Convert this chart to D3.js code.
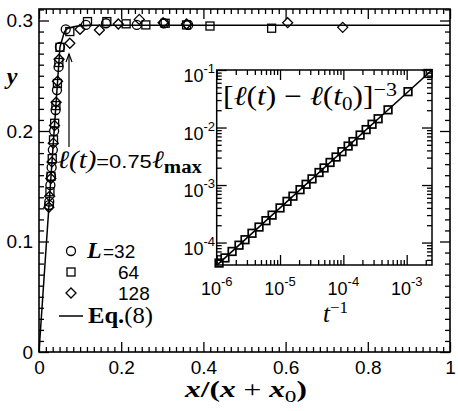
<!DOCTYPE html>
<html><head><meta charset="utf-8">
<script src="https://cdn.jsdelivr.net/npm/d3@7"></script>
<style>body{margin:0;background:#fff} svg{display:block}</style>
</head><body><svg id="c" width="458" height="411"></svg>
<script>
// ---- main plot data ----
const xTicks = [0, 0.2, 0.4, 0.6, 0.8, 1];
const xTickLabels = ["0", "0.2", "0.4", "0.6", "0.8", "1"];
const yTicks = [0, 0.1, 0.2, 0.3];
const yTickLabels = ["0", "0.1", "0.2", "0.3"];

const c32x = [0.0244, 0.0250, 0.0277, 0.0292, 0.0307, 0.0337, 0.0368, 0.0404, 0.0437, 0.0476, 0.0510, 0.065, 0.114, 0.163, 0.238, 0.304, 0.363];
const c32y = [0.133, 0.136, 0.151, 0.159, 0.167, 0.183, 0.200, 0.219, 0.237, 0.258, 0.276, 0.292, 0.296, 0.2975, 0.296, 0.2975, 0.296];
const s64x = [0.0266, 0.0292, 0.0322, 0.0353, 0.0381, 0.0411, 0.0448, 0.0483, 0.0510, 0.075, 0.118, 0.165, 0.212, 0.260, 0.307, 0.359, 0.416, 0.566];
const s64y = [0.145, 0.159, 0.175, 0.192, 0.207, 0.223, 0.243, 0.262, 0.2757, 0.290, 0.299, 0.299, 0.297, 0.296, 0.2975, 0.296, 0.295, 0.293];
const d128x = [0.0240, 0.0259, 0.0288, 0.0316, 0.0347, 0.0377, 0.0416, 0.0451, 0.0488, 0.075, 0.0998, 0.147, 0.193, 0.244, 0.302, 0.359, 0.605, 0.739];
const d128y = [0.131, 0.141, 0.157, 0.172, 0.189, 0.205, 0.226, 0.245, 0.265, 0.2794, 0.292, 0.2914, 0.2968, 0.301, 0.298, 0.2968, 0.298, 0.2938];
const eqX = [0, 0.024, 0.051, 0.062, 0.07, 0.09, 0.12, 1.0];
const eqY = [0, 0.131, 0.276, 0.290, 0.293, 0.2948, 0.2957, 0.2958];

// ---- inset data ----
const insetXTicks = [1e-6, 1e-5, 1e-4, 1e-3];
const insetXTickExp = ["-6", "-5", "-4", "-3"];
const insetYTicks = [1e-4, 1e-3, 1e-2, 1e-1];
const insetYTickExp = ["-4", "-3", "-2", "-1"];
const insT = [1.09e-6, 1.35e-6, 1.75e-6, 2.25e-6, 2.80e-6, 3.61e-6, 4.66e-6, 6.0e-6, 7.5e-6, 1.0e-5, 1.29e-5, 1.60e-5, 2.07e-5, 2.58e-5, 3.2e-5, 4.13e-5, 4.96e-5, 6.17e-5, 7.67e-5, 9.5e-5, 1.19e-4, 1.42e-4, 1.84e-4, 2.29e-4, 2.84e-4, 3.54e-4, 5.08e-4, 1.05e-3, 2.18e-3];
const insL = [4.4e-5, 5.4e-5, 7.0e-5, 9.0e-5, 1.12e-4, 1.45e-4, 1.86e-4, 2.4e-4, 3.0e-4, 4.0e-4, 5.2e-4, 6.4e-4, 8.3e-4, 1.03e-3, 1.28e-3, 1.65e-3, 1.98e-3, 2.47e-3, 3.07e-3, 3.8e-3, 4.76e-3, 5.7e-3, 7.4e-3, 9.2e-3, 1.14e-2, 1.42e-2, 2.03e-2, 4.2e-2, 8.7e-2];
const insLineT = [1e-6, 2.51e-3];
const insLineL = [4.0e-5, 0.1];

const svg = d3.select("#c");
const sans = "'Liberation Sans', Arial, sans-serif";
const serif = "'Liberation Serif', 'DejaVu Serif', serif";

const x = d3.scaleLinear().domain([0, 1]).range([39, 450]);
const y = d3.scaleLinear().domain([0, 0.3104]).range([352, 9]);

const minorX = d3.range(0, 61).map(i => i / 60).filter(v => !xTicks.some(t => Math.abs(t - v) < 1e-9));
const minorY = d3.range(0, 32).map(i => i / 100).filter(v => v <= 0.3104 && !yTicks.some(t => Math.abs(t - v) < 1e-9));

function styleAxis(g) {
  g.select(".domain").remove();
  g.selectAll(".tick line").attr("stroke", "#000").attr("stroke-width", 1.3);
  g.selectAll(".tick text").attr("fill", "#000");
}

// minor ticks
svg.append("g").attr("transform", "translate(0,352)").call(d3.axisBottom(x).tickValues(minorX).tickSize(-5).tickFormat("")).call(styleAxis);
svg.append("g").attr("transform", "translate(0,9)").call(d3.axisTop(x).tickValues(minorX).tickSize(-5).tickFormat("")).call(styleAxis);
svg.append("g").attr("transform", "translate(39,0)").call(d3.axisLeft(y).tickValues(minorY).tickSize(-5).tickFormat("")).call(styleAxis);
svg.append("g").attr("transform", "translate(450,0)").call(d3.axisRight(y).tickValues(minorY).tickSize(-5).tickFormat("")).call(styleAxis);
// major ticks
const gxb = svg.append("g").attr("transform", "translate(0,352)")
  .call(d3.axisBottom(x).tickValues(xTicks).tickSize(-10).tickPadding(9).tickFormat((d, i) => xTickLabels[i])).call(styleAxis);
gxb.selectAll("text").attr("font-family", sans).attr("font-size", 19);
svg.append("g").attr("transform", "translate(0,9)").call(d3.axisTop(x).tickValues(xTicks).tickSize(-10).tickFormat("")).call(styleAxis);
const gyl = svg.append("g").attr("transform", "translate(39,0)")
  .call(d3.axisLeft(y).tickValues(yTicks).tickSize(-10).tickPadding(6).tickFormat((d, i) => yTickLabels[i])).call(styleAxis);
gyl.selectAll("text").attr("font-family", sans).attr("font-size", 19);
svg.append("g").attr("transform", "translate(450,0)").call(d3.axisRight(y).tickValues(yTicks).tickSize(-10).tickFormat("")).call(styleAxis);

svg.append("rect").attr("x", 39).attr("y", 9).attr("width", 411).attr("height", 343)
  .attr("fill", "none").attr("stroke", "#000").attr("stroke-width", 1.6);

// Eq. line
const line = d3.line().x(d => x(d[0])).y(d => y(d[1]));
svg.append("path").datum(eqX.map((v, i) => [v, eqY[i]])).attr("d", line)
  .attr("fill", "none").attr("stroke", "#000").attr("stroke-width", 1.5);

const mk = { stroke: "#000", sw: 1.3 };
svg.append("g").selectAll("circle").data(c32x.map((v, i) => [v, c32y[i]])).join("circle")
  .attr("cx", d => x(d[0])).attr("cy", d => y(d[1])).attr("r", 4.5)
  .attr("fill", "none").attr("stroke", mk.stroke).attr("stroke-width", mk.sw);
svg.append("g").selectAll("rect").data(s64x.map((v, i) => [v, s64y[i]])).join("rect")
  .attr("x", d => x(d[0]) - 4).attr("y", d => y(d[1]) - 4).attr("width", 8).attr("height", 8)
  .attr("fill", "none").attr("stroke", mk.stroke).attr("stroke-width", mk.sw);
const diamond = (cx, cy, r) => `M${cx},${cy - r}L${cx + r},${cy}L${cx},${cy + r}L${cx - r},${cy}Z`;
svg.append("g").selectAll("path").data(d128x.map((v, i) => [v, d128y[i]])).join("path")
  .attr("d", d => diamond(x(d[0]), y(d[1]), 5))
  .attr("fill", "none").attr("stroke", mk.stroke).attr("stroke-width", mk.sw);

// arrow annotation
const ax = x(0.073);
svg.append("line").attr("x1", ax).attr("x2", ax).attr("y1", 147).attr("y2", 54).attr("stroke", "#000").attr("stroke-width", 1.2);
svg.append("path").attr("d", `M${ax - 3},${62}L${ax},${54}L${ax + 3},${62}`).attr("fill", "none").attr("stroke", "#000").attr("stroke-width", 1.2);
const ann = svg.append("text").attr("x", 57).attr("y", 168).attr("fill", "#000")
  .attr("textLength", 145).attr("lengthAdjust", "spacingAndGlyphs");
ann.append("tspan").attr("font-family", serif).attr("font-style", "italic").attr("font-size", 25).text("ℓ(t)");
ann.append("tspan").attr("font-family", sans).attr("font-size", 19).text("=0.75");
ann.append("tspan").attr("font-family", serif).attr("font-style", "italic").attr("font-size", 25).text("ℓ");
ann.append("tspan").attr("font-family", serif).attr("font-weight", "bold").attr("font-size", 18).attr("dy", 5).text("max");

// y & x labels
svg.append("text").attr("x", 12).attr("y", 84).attr("text-anchor", "middle").attr("font-family", serif)
  .attr("font-style", "italic").attr("font-weight", "bold").attr("font-size", 24).text("y");
const xl = svg.append("text").attr("x", 185).attr("y", 397).attr("font-family", serif)
  .attr("font-weight", "bold").attr("font-size", 23).attr("textLength", 122).attr("lengthAdjust", "spacingAndGlyphs");
xl.append("tspan").attr("font-style", "italic").text("x");
xl.append("tspan").text("/(");
xl.append("tspan").attr("font-style", "italic").text("x");
xl.append("tspan").attr("font-weight", "normal").text(" + ");
xl.append("tspan").attr("font-style", "italic").text("x");
xl.append("tspan").attr("font-size", 17).attr("font-weight", "normal").attr("dy", 5).text("0");
xl.append("tspan").attr("dy", -5).text(")");

// legend
const lg = svg.append("g");
lg.append("circle").attr("cx", 71).attr("cy", 251).attr("r", 4.5).attr("fill", "none").attr("stroke", "#000").attr("stroke-width", 1.3);
lg.append("rect").attr("x", 67).attr("y", 268).attr("width", 8).attr("height", 8).attr("fill", "none").attr("stroke", "#000").attr("stroke-width", 1.3);
lg.append("path").attr("d", diamond(71, 293, 5)).attr("fill", "none").attr("stroke", "#000").attr("stroke-width", 1.3);
lg.append("line").attr("x1", 59).attr("x2", 83).attr("y1", 316).attr("y2", 316).attr("stroke", "#000").attr("stroke-width", 1.5);
const t1 = lg.append("text").attr("x", 87).attr("y", 258);
t1.append("tspan").attr("font-family", serif).attr("font-style", "italic").attr("font-weight", "bold").attr("font-size", 24).text("L");
t1.append("tspan").attr("font-family", sans).attr("font-size", 19).attr("x", 103).text("=32");
lg.append("text").attr("x", 118).attr("y", 279).attr("font-family", sans).attr("font-size", 19).text("64");
lg.append("text").attr("x", 118).attr("y", 300).attr("font-family", sans).attr("font-size", 19).text("128");
const t4 = lg.append("text").attr("x", 88).attr("y", 323).attr("font-family", serif).attr("font-size", 24)
  .attr("textLength", 65).attr("lengthAdjust", "spacingAndGlyphs");
t4.append("tspan").attr("font-weight", "bold").text("Eq.");
t4.append("tspan").text("(8)");

// ---- inset ----
const xi = d3.scaleLog().domain([1e-6, 2.51e-3]).range([216.7, 432]);
const yi = d3.scaleLog().domain([4.07e-5, 0.1]).range([265, 70]);
svg.append("rect").attr("x", 216.7).attr("y", 70).attr("width", 432 - 216.7).attr("height", 195).attr("fill", "#fff");

const minorXi = [];
[-6, -5, -4, -3].forEach(e => { for (let m = 2; m <= 9; m++) { const v = m * Math.pow(10, e); if (v < 2.51e-3) minorXi.push(v); } });
const minorYi = [];
[-5, -4, -3, -2].forEach(e => { for (let m = 2; m <= 9; m++) { const v = m * Math.pow(10, e); if (v > 4.07e-5 && v < 0.1) minorYi.push(v); } });

svg.append("g").attr("transform", "translate(0,265)").call(d3.axisBottom(xi).tickValues(minorXi).tickSize(-5).tickFormat("")).call(styleAxis);
svg.append("g").attr("transform", "translate(0,70)").call(d3.axisTop(xi).tickValues(minorXi).tickSize(-5).tickFormat("")).call(styleAxis);
svg.append("g").attr("transform", "translate(216.7,0)").call(d3.axisLeft(yi).tickValues(minorYi).tickSize(-5).tickFormat("")).call(styleAxis);
svg.append("g").attr("transform", "translate(432,0)").call(d3.axisRight(yi).tickValues(minorYi).tickSize(-5).tickFormat("")).call(styleAxis);
svg.append("g").attr("transform", "translate(0,265)").call(d3.axisBottom(xi).tickValues(insetXTicks).tickSize(-10).tickFormat("")).call(styleAxis);
svg.append("g").attr("transform", "translate(0,70)").call(d3.axisTop(xi).tickValues(insetXTicks).tickSize(-10).tickFormat("")).call(styleAxis);
svg.append("g").attr("transform", "translate(216.7,0)").call(d3.axisLeft(yi).tickValues(insetYTicks).tickSize(-10).tickFormat("")).call(styleAxis);
svg.append("g").attr("transform", "translate(432,0)").call(d3.axisRight(yi).tickValues(insetYTicks).tickSize(-10).tickFormat("")).call(styleAxis);

svg.append("rect").attr("x", 216.7).attr("y", 70).attr("width", 432 - 216.7).attr("height", 195)
  .attr("fill", "none").attr("stroke", "#000").attr("stroke-width", 1.5);

// inset tick labels
insetXTicks.forEach((v, i) => {
  const t = svg.append("text").attr("x", xi(v)).attr("y", 295).attr("text-anchor", "middle").attr("font-family", sans).attr("font-size", 18);
  t.append("tspan").text("10");
  t.append("tspan").attr("font-size", 13).attr("dy", -9).text(insetXTickExp[i]);
});
insetYTicks.forEach((v, i) => {
  const t = svg.append("text").attr("x", 215).attr("y", yi(v) + 12).attr("text-anchor", "end").attr("font-family", sans).attr("font-size", 18);
  t.append("tspan").text("10");
  t.append("tspan").attr("font-size", 13).attr("dy", -9).text(insetYTickExp[i]);
});

// inset line and points
const lineI = d3.line().x(d => xi(d[0])).y(d => yi(d[1]));
svg.append("path").datum(insLineT.map((v, i) => [v, insLineL[i]])).attr("d", lineI)
  .attr("fill", "none").attr("stroke", "#000").attr("stroke-width", 1.6);
svg.append("g").selectAll("rect").data(insT.map((v, i) => [v, insL[i]])).join("rect")
  .attr("x", d => xi(d[0]) - 3.8).attr("y", d => yi(d[1]) - 3.8).attr("width", 7.6).attr("height", 7.6)
  .attr("fill", "none").attr("stroke", "#000").attr("stroke-width", 1.7);

// inset labels
const it = svg.append("text").attr("x", 223).attr("y", 105).attr("font-family", serif).attr("font-size", 27)
  .attr("textLength", 174).attr("lengthAdjust", "spacingAndGlyphs");
it.append("tspan").text("[");
it.append("tspan").attr("font-style", "italic").text("ℓ");
it.append("tspan").text("(");
it.append("tspan").attr("font-style", "italic").text("t");
it.append("tspan").text(") − ");
it.append("tspan").attr("font-style", "italic").text("ℓ");
it.append("tspan").text("(");
it.append("tspan").attr("font-style", "italic").text("t");
it.append("tspan").attr("font-size", 18).attr("dy", 5).text("0");
it.append("tspan").attr("dy", -5).text(")]");
it.append("tspan").attr("font-size", 19).attr("dy", -9).text("−3");

const tl = svg.append("text").attr("x", 323).attr("y", 322).attr("font-family", serif).attr("font-size", 25);
tl.append("tspan").attr("font-style", "italic").text("t");
tl.append("tspan").attr("font-size", 17).attr("dy", -9).text("−1");
</script></body></html>
